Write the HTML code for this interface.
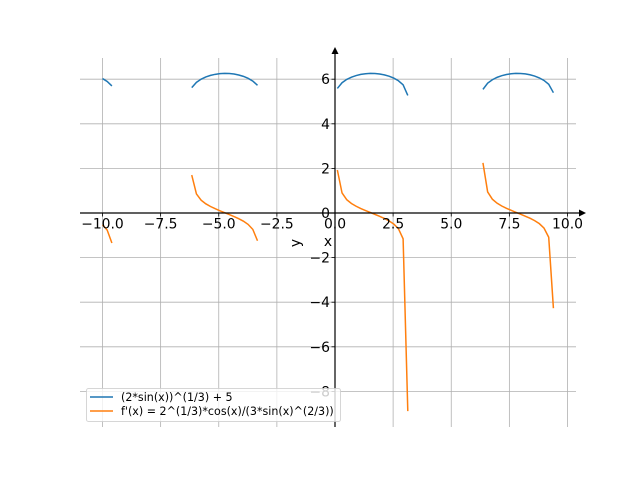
<!DOCTYPE html>
<html><head><meta charset="utf-8"><style>body{margin:0;background:#fff}svg{display:block}text{font-family:"DejaVu Sans","Liberation Sans",sans-serif}</style></head>
<body>
<svg id="s" width="640" height="480" xmlns="http://www.w3.org/2000/svg"></svg>
<script>
const s=document.getElementById('s');
const X=x=>335+23.25*x, Y=y=>213-22.3*y;
let h='';
const L=80,R=576,T=58,B=427;
// grid
for(const v of [-10,-7.5,-5,-2.5,0,2.5,5,7.5,10]) h+=`<line x1="${X(v)}" y1="${T}" x2="${X(v)}" y2="${B}" stroke="#b0b0b0" stroke-width="0.8"/>`;
for(const v of [-8,-6,-4,-2,0,2,4,6]) h+=`<line x1="${L}" y1="${Y(v)}" x2="${R}" y2="${Y(v)}" stroke="#b0b0b0" stroke-width="0.8"/>`;
// curves
const N=100, xs=[];for(let i=0;i<N;i++)xs.push(-10+20*i/(N-1));
let segs=[],cur=null;
for(const x of xs){const sn=Math.sin(x);if(sn>0){if(!cur){cur=[];segs.push(cur)}cur.push(x)}else cur=null;}
for(const sg of segs){
 const b=sg.map(x=>X(x).toFixed(2)+','+Y(Math.cbrt(2*Math.sin(x))+5).toFixed(2)).join(' ');
 h+=`<polyline points="${b}" fill="none" stroke="#1f77b4" stroke-width="1.5"/>`;
 const o=sg.map(x=>X(x).toFixed(2)+','+Y(Math.cbrt(2)*Math.cos(x)/(3*Math.pow(Math.sin(x),2/3))).toFixed(2)).join(' ');
 h+=`<polyline points="${o}" fill="none" stroke="#ff7f0e" stroke-width="1.5"/>`;
}
// axes
h+=`<line x1="${L}" y1="213" x2="581" y2="213" stroke="#000" stroke-width="1.2"/><polygon points="586,213 579,209.5 579,216.5" fill="#000"/>`;
h+=`<line x1="335" y1="${B}" x2="335" y2="53" stroke="#000" stroke-width="1.2"/><polygon points="335,47 331.5,54 338.5,54" fill="#000"/>`;
for(const [v,t] of [[-10,'−10.0'],[-7.5,'−7.5'],[-5,'−5.0'],[-2.5,'−2.5'],[0,'0.0'],[2.5,'2.5'],[5,'5.0'],[7.5,'7.5'],[10,'10.0']]){
 h+=`<line x1="${X(v)}" y1="213" x2="${X(v)}" y2="216.5" stroke="#000" stroke-width="0.8"/><text x="${X(v)}" y="228.5" font-size="13.9" text-anchor="middle">${t}</text>`;}
for(const [v,t] of [[-8,'−8'],[-6,'−6'],[-4,'−4'],[-2,'−2'],[0,'0'],[2,'2'],[4,'4'],[6,'6']]){
 h+=`<line x1="331.5" y1="${Y(v)}" x2="335" y2="${Y(v)}" stroke="#000" stroke-width="0.8"/><text x="330" y="${Y(v)+5}" font-size="13.9" text-anchor="end">${t}</text>`;}
h+=`<text x="328" y="246" font-size="13.9" text-anchor="middle">x</text>`;
h+=`<text transform="translate(300,243) rotate(-90)" font-size="13.9" text-anchor="middle">y</text>`;
// legend
h+=`<rect x="86.5" y="388.5" width="254" height="33" rx="2" fill="#fff" fill-opacity="0.8" stroke="#ccc" stroke-opacity="0.8"/>`;
h+=`<line x1="90" y1="397" x2="113" y2="397" stroke="#1f77b4" stroke-width="1.5"/><text x="121" y="401" font-size="11.1">(2*sin(x))^(1/3) + 5</text>`;
h+=`<line x1="90" y1="411" x2="113" y2="411" stroke="#ff7f0e" stroke-width="1.5"/><text x="121" y="415" font-size="11.1">f'(x) = 2^(1/3)*cos(x)/(3*sin(x)^(2/3))</text>`;
s.innerHTML=h;
</script>
</body></html>
